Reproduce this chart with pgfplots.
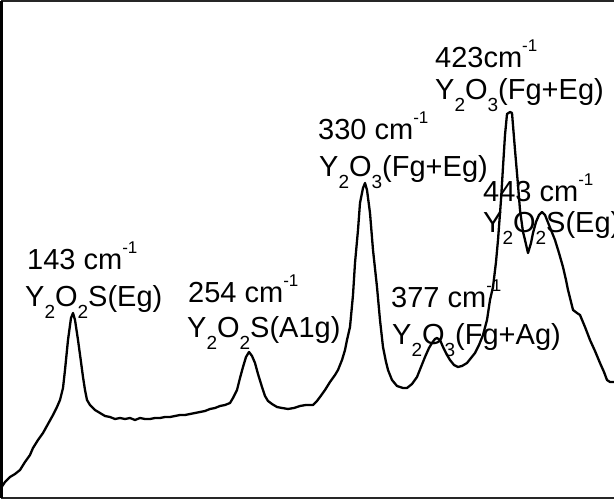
\documentclass[border=0pt]{standalone}
\usepackage{pgfplots}
\usepackage{pgfplotstable}
\pgfplotsset{compat=1.18}
\usepackage{fontspec}
\setmainfont{Liberation Sans}
\newcommand\sbs[1]{\raisebox{-0.39em}{\fontsize{19}{19}\selectfont #1}}
\newcommand\sps[1]{\raisebox{0.56em}{\fontsize{17}{17}\selectfont #1}}
\tikzset{lbl/.style={anchor=base west, inner sep=0pt, font=\fontsize{29}{32}\selectfont}}
\pgfplotstableread{
x y
1 488
5 482
10 477
15 474
20 470
25 462
30 455
33 448
38 440
43 433
48 424
53 415
57 407
60 400
63 388
65 370
68 340
71 318
73 313
75 320
78 340
81 362
83 377
85 390
87 400
90 405
95 410
100 413
105 416
110 417
115 419
120 418
125 419
130 418
135 420
140 418
145 419
150 419
155 418
160 418
165 417
170 417
175 416
180 415
185 415
190 414
195 413
200 412
205 411
210 409
215 408
220 406
225 405
230 403
233 398
237 390
240 378
243 367
246 357
249 352
252 356
255 363
258 374
262 387
265 396
268 401
272 404
277 407
282 408
288 409
294 408
300 406
306 405
313 405
317 401
320 397
325 390
330 382
335 375
338 370
342 360
345 350
347 340
350 327
353 295
355 263
358 230
360 203
363 188
365 183
367 190
370 213
373 250
377 287
380 320
383 347
386 362
388 370
392 380
397 386
403 388
407 388
412 384
417 377
421 367
425 357
429 348
432 343
435 339
437 338
440 340
443 347
447 355
450 360
454 365
458 367
462 366
467 363
471 358
475 353
479 345
483 335
487 320
490 300
493 287
496 262
498 240
501 200
503 167
505 135
507 114
510 112
512 113
515 150
518 185
520 210
523 232
525 240
528 253
531 243
533 233
536 222
539 215
542 212
545 215
549 225
555 240
559 253
563 267
566 280
568 290
571 302
573 310
577 313
580 315
585 327
590 340
595 351
600 363
604 372
607 380
610 382
614 382
}\spec
\begin{document}
\begin{tikzpicture}
\begin{axis}[name=ax, at={(0,0)}, anchor=south west,
  x=1pt, y=1pt, xmin=1, xmax=614, ymin=0, ymax=497,
  axis x line=box, axis y line=left,
  x axis line style={line width=2pt, black!85},
  y axis line style={-, line width=3pt, black},
  every outer y axis line/.append style={-},
  ticks=none]
\addplot[black, line width=2.3pt, line join=round] table[x=x, y expr=498-\thisrow{y}] {\spec};
\node[lbl] at (axis cs:27,228) {143 cm\sps{-1}};
\node[lbl] at (axis cs:25,191) {Y\sbs{2}O\sbs{2}S(Eg)};
\node[lbl] at (axis cs:188,195) {254 cm\sps{-1}};
\node[lbl] at (axis cs:187,160) {Y\sbs{2}O\sbs{2}S(A1g)};
\node[lbl] at (axis cs:318,358) {330 cm\sps{-1}};
\node[lbl] at (axis cs:319,321) {Y\sbs{2}O\sbs{3}(Fg+Eg)};
\node[lbl] at (axis cs:435,430) {423cm\sps{-1}};
\node[lbl] at (axis cs:435,398) {Y\sbs{2}O\sbs{3}(Fg+Eg)};
\node[lbl] at (axis cs:483,296) {443 cm\sps{-1}};
\node[lbl] at (axis cs:483,265) {Y\sbs{2}O\sbs{2}S(Eg)};
\node[lbl] at (axis cs:391,190) {377 cm\sps{-1}};
\node[lbl] at (axis cs:392,153) {Y\sbs{2}O\sbs{3}(Fg+Ag)};
\end{axis}
\path (ax.south west) ++(-1pt,-2pt) coordinate (bbA);
\path (ax.north east) ++(0pt,1pt) coordinate (bbB);
\pgfresetboundingbox
\useasboundingbox (bbA) rectangle (bbB);
\end{tikzpicture}
\end{document}
